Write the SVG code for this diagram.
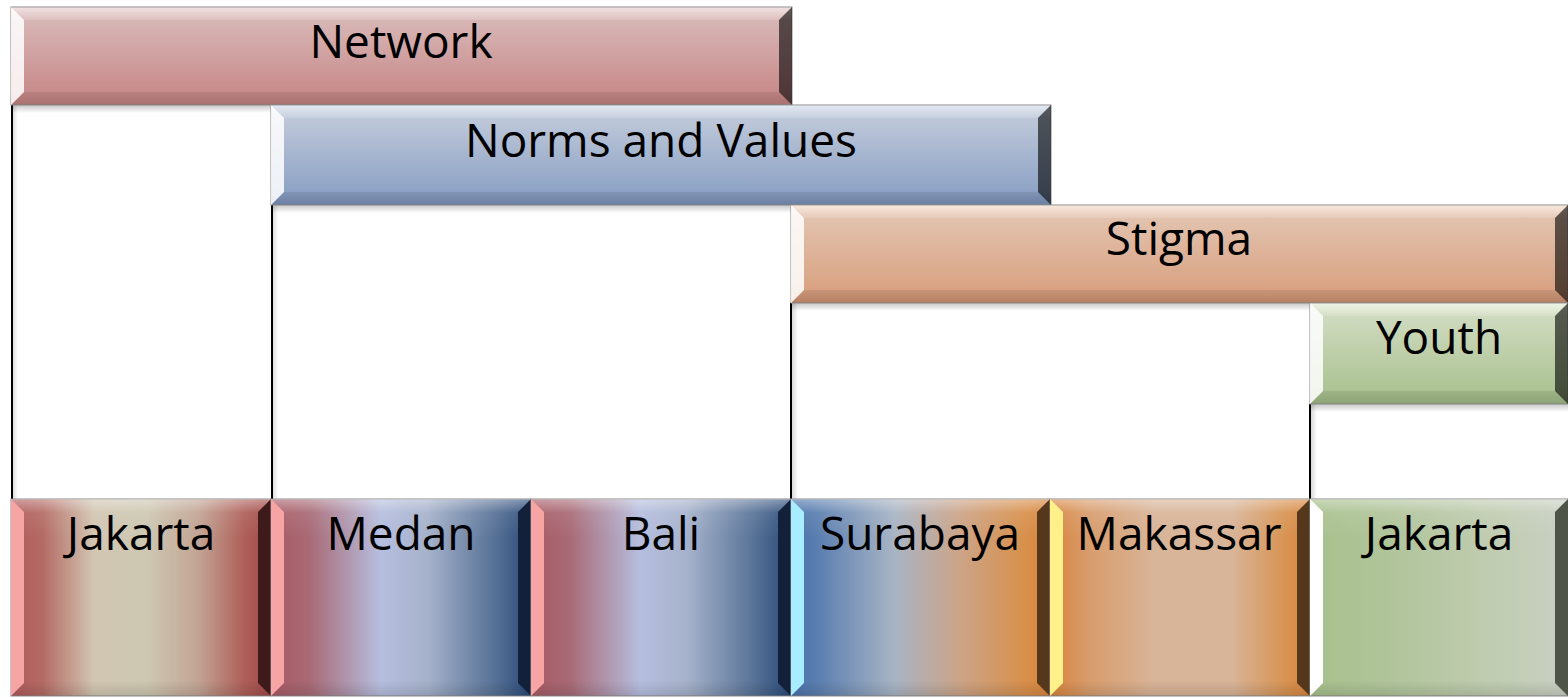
<svg xmlns="http://www.w3.org/2000/svg" xmlns:xlink="http://www.w3.org/1999/xlink" width="1568" height="698" viewBox="0 0 1568 698">
<style>
text{font-family:"Open Sans","Liberation Sans",Arial,sans-serif;font-size:46px;fill:#000;text-anchor:middle}
.base{stroke:#8a8a8a;stroke-width:1}
.hl{fill:#fff;opacity:.85}
.dk{fill:#000;opacity:.6}
.tp{fill:#fff;opacity:.14}
.bt{fill:#000;opacity:.07}
.vline{stroke:#000;stroke-width:2}
.white{fill:#fff}
</style>
<defs>
<linearGradient id="gNet" x1="0" y1="0" x2="0" y2="1"><stop offset="0" stop-color="#f0dede"/><stop offset=".13" stop-color="#d8b6b6"/><stop offset=".85" stop-color="#c98c8c"/><stop offset="1" stop-color="#b87a7a"/></linearGradient>
<linearGradient id="gNorm" x1="0" y1="0" x2="0" y2="1"><stop offset="0" stop-color="#dfe6f0"/><stop offset=".13" stop-color="#bec8d9"/><stop offset=".85" stop-color="#8fa4c6"/><stop offset="1" stop-color="#7389b0"/></linearGradient>
<linearGradient id="gStig" x1="0" y1="0" x2="0" y2="1"><stop offset="0" stop-color="#fae6da"/><stop offset=".13" stop-color="#e2c2ae"/><stop offset=".85" stop-color="#d9a383"/><stop offset="1" stop-color="#c48a6b"/></linearGradient>
<linearGradient id="gYouth" x1="0" y1="0" x2="0" y2="1"><stop offset="0" stop-color="#ecf2e2"/><stop offset=".13" stop-color="#cfdabf"/><stop offset=".85" stop-color="#adc494"/><stop offset="1" stop-color="#98b07e"/></linearGradient>
<linearGradient id="hJak" x1="0" y1="0" x2="1" y2="0"><stop offset="0" stop-color="#b05a5a"/><stop offset=".12" stop-color="#b46a64"/><stop offset=".32" stop-color="#d2c6b2"/><stop offset=".52" stop-color="#cdc8b2"/><stop offset=".72" stop-color="#c2a494"/><stop offset=".9" stop-color="#ae5e58"/><stop offset="1" stop-color="#a04848"/></linearGradient>
<linearGradient id="hMed" x1="0" y1="0" x2="1" y2="0"><stop offset="0" stop-color="#a85a64"/><stop offset=".15" stop-color="#a86a76"/><stop offset=".42" stop-color="#b6bedf"/><stop offset=".6" stop-color="#a6b2cb"/><stop offset=".85" stop-color="#5a7498"/><stop offset="1" stop-color="#2a4a78"/></linearGradient>
<linearGradient id="hSur" x1="0" y1="0" x2="1" y2="0"><stop offset="0" stop-color="#4a72aa"/><stop offset=".1" stop-color="#5a7eb0"/><stop offset=".4" stop-color="#a8b4c4"/><stop offset=".65" stop-color="#cca488"/><stop offset=".9" stop-color="#d8904c"/><stop offset="1" stop-color="#d8843c"/></linearGradient>
<linearGradient id="hMak" x1="0" y1="0" x2="1" y2="0"><stop offset="0" stop-color="#d8843c"/><stop offset=".15" stop-color="#d89c6c"/><stop offset=".4" stop-color="#d8b498"/><stop offset=".7" stop-color="#d8b498"/><stop offset=".9" stop-color="#d89454"/><stop offset="1" stop-color="#d8843c"/></linearGradient>
<linearGradient id="hJak2" x1="0" y1="0" x2="1" y2="0"><stop offset="0" stop-color="#a8c08c"/><stop offset=".3" stop-color="#b0c49a"/><stop offset=".7" stop-color="#c0ccb0"/><stop offset="1" stop-color="#c8d0c4"/></linearGradient>
<linearGradient id="vOv" x1="0" y1="0" x2="0" y2="1"><stop offset="0" stop-color="#fff" stop-opacity=".4"/><stop offset=".07" stop-color="#fff" stop-opacity=".08"/><stop offset=".2" stop-color="#fff" stop-opacity="0"/><stop offset=".92" stop-color="#000" stop-opacity="0"/><stop offset="1" stop-color="#000" stop-opacity=".12"/></linearGradient>
<linearGradient id="shV" x1="0" y1="0" x2="0" y2="1"><stop offset="0" stop-color="#000" stop-opacity=".22"/><stop offset="1" stop-color="#000" stop-opacity="0"/></linearGradient>
<linearGradient id="shH" x1="0" y1="0" x2="1" y2="0"><stop offset="0" stop-color="#000" stop-opacity=".15"/><stop offset="1" stop-color="#000" stop-opacity="0"/></linearGradient>
</defs>
<rect width="1568" height="698" fill="#fff"/>

<g id="white-cells">
<rect class="white" x="11" y="105" width="260" height="394"/>
<rect class="white" x="271" y="205" width="520" height="294"/>
<rect class="white" x="791" y="303" width="519" height="196"/>
<rect class="white" x="1310" y="404" width="258" height="95"/>
<rect x="12" y="105" width="6" height="394" fill="url(#shH)"/>
<rect x="272" y="205" width="6" height="294" fill="url(#shH)"/>
<rect x="792" y="303" width="6" height="196" fill="url(#shH)"/>
<rect x="1311" y="404" width="6" height="95" fill="url(#shH)"/>
<rect x="11" y="105" width="260" height="8" fill="url(#shV)"/>
<rect x="271" y="205" width="520" height="8" fill="url(#shV)"/>
<rect x="791" y="303" width="519" height="8" fill="url(#shV)"/>
<rect x="1310" y="404" width="258" height="8" fill="url(#shV)"/>
</g>

<g id="connectors">
<line class="vline" x1="12" y1="105" x2="12" y2="499"/>
<line class="vline" x1="272" y1="205" x2="272" y2="499"/>
<line class="vline" x1="791" y1="303" x2="791" y2="499"/>
<line class="vline" x1="1310" y1="404" x2="1310" y2="499"/>
</g>

<g id="network">
<rect class="base" x="11" y="7" width="781" height="98" fill="url(#gNet)"/>
<polygon class="tp" points="11,7 792,7 779,20 24,20"/>
<polygon class="bt" points="11,105 24,92 779,92 792,105"/>
<polygon class="hl" points="11,7 24,20 24,92 11,105"/>
<polygon class="dk" points="792,7 779,20 779,92 792,105"/>
<text x="401" y="58">Network</text>
</g>

<g id="norms">
<rect class="base" x="271" y="105" width="780" height="100" fill="url(#gNorm)"/>
<polygon class="tp" points="271,105 1051,105 1038,118 284,118"/>
<polygon class="bt" points="271,205 284,192 1038,192 1051,205"/>
<polygon class="hl" points="271,105 284,118 284,192 271,205"/>
<polygon class="dk" points="1051,105 1038,118 1038,192 1051,205"/>
<text x="661" y="157">Norms and Values</text>
</g>

<g id="stigma">
<rect class="base" x="791" y="205" width="777" height="98" fill="url(#gStig)"/>
<polygon class="tp" points="791,205 1568,205 1555,218 804,218"/>
<polygon class="bt" points="791,303 804,290 1555,290 1568,303"/>
<polygon class="hl" points="791,205 804,218 804,290 791,303"/>
<polygon class="dk" points="1568,205 1555,218 1555,290 1568,303"/>
<text x="1179" y="255">Stigma</text>
</g>

<g id="youth">
<rect class="base" x="1310" y="303" width="258" height="101" fill="url(#gYouth)"/>
<polygon class="tp" points="1310,303 1568,303 1555,316 1323,316"/>
<polygon class="bt" points="1310,404 1323,391 1555,391 1568,404"/>
<polygon class="hl" points="1310,303 1323,316 1323,391 1310,404"/>
<polygon class="dk" points="1568,303 1555,316 1555,391 1568,404"/>
<text x="1439" y="354">Youth</text>
</g>

<g id="jakarta1">
<rect class="base" x="11" y="499" width="260" height="197" fill="url(#hJak)"/>
<rect x="11" y="499" width="260" height="197" fill="url(#vOv)"/>
<polygon points="11,499 24,512 24,683 11,696" fill="#f7a4a4"/>
<polygon points="271,499 258,512 258,683 271,696" fill="#3e1a1a"/>
<text x="141" y="550">Jakarta</text>
</g>

<g id="medan">
<rect class="base" x="271" y="499" width="260" height="197" fill="url(#hMed)"/>
<rect x="271" y="499" width="260" height="197" fill="url(#vOv)"/>
<polygon points="271,499 284,512 284,683 271,696" fill="#f7a4a4"/>
<polygon points="531,499 518,512 518,683 531,696" fill="#12203a"/>
<text x="401" y="550">Medan</text>
</g>

<g id="bali">
<rect class="base" x="531" y="499" width="260" height="197" fill="url(#hMed)"/>
<rect x="531" y="499" width="260" height="197" fill="url(#vOv)"/>
<polygon points="531,499 544,512 544,683 531,696" fill="#f7a4a4"/>
<polygon points="791,499 778,512 778,683 791,696" fill="#12203a"/>
<text x="661" y="550">Bali</text>
</g>

<g id="surabaya">
<rect class="base" x="791" y="499" width="259" height="197" fill="url(#hSur)"/>
<rect x="791" y="499" width="259" height="197" fill="url(#vOv)"/>
<polygon points="791,499 804,512 804,683 791,696" fill="#a8ecff"/>
<polygon points="1050,499 1037,512 1037,683 1050,696" fill="#55381c"/>
<text x="920" y="550">Surabaya</text>
</g>

<g id="makassar">
<rect class="base" x="1050" y="499" width="260" height="197" fill="url(#hMak)"/>
<rect x="1050" y="499" width="260" height="197" fill="url(#vOv)"/>
<polygon points="1050,499 1063,512 1063,683 1050,696" fill="#fff08a"/>
<polygon points="1310,499 1297,512 1297,683 1310,696" fill="#55381c"/>
<text x="1179" y="550">Makassar</text>
</g>

<g id="jakarta2">
<rect class="base" x="1310" y="499" width="258" height="197" fill="url(#hJak2)"/>
<rect x="1310" y="499" width="258" height="197" fill="url(#vOv)"/>
<polygon points="1310,499 1323,512 1323,683 1310,696" fill="#ffffff"/>
<polygon points="1568,499 1555,512 1555,683 1568,696" fill="#4e5448"/>
<text x="1439" y="550">Jakarta</text>
</g>
</svg>
